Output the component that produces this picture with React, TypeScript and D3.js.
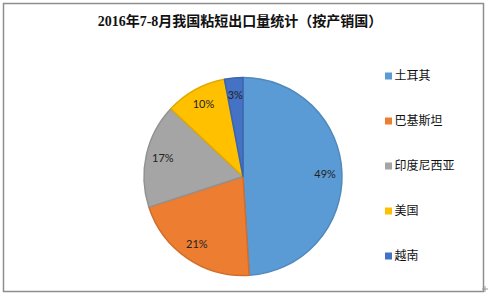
import React from "react";
import * as d3 from "d3";

const categories = ["土耳其", "巴基斯坦", "印度尼西亚", "美国", "越南"];
const values = [49, 21, 17, 10, 3];
const labels = ["49%", "21%", "17%", "10%", "3%"];
const colors = ["#5B9BD5", "#ED7D31", "#A5A5A5", "#FFC000", "#4472C4"];
const title = "2016年7-8月我国粘短出口量统计（按产销国）";

export default function App() {
  const W = 488, H = 296;
  const cx = 243, cy = 176.5, r = 99;
  const pie = d3.pie<number>().sort(null).value((d) => d);
  const arcs = pie(values);
  const arc = d3.arc<d3.PieArcDatum<number>>().innerRadius(0).outerRadius(r);
  const labelArc = d3.arc<d3.PieArcDatum<number>>().innerRadius(r * 0.83).outerRadius(r * 0.83);
  const legendY = d3.scalePoint<string>().domain(categories).range([76, 256]);

  return (
    <svg width={W} height={H} style={{ position: "absolute", left: 0, top: 0, background: "#fff" }}>
      <rect x={0} y={0} width={W} height={H} fill="#fff" />
      <rect x={3.5} y={3.5} width={480} height={288} fill="#fff" stroke="#8e8e8e" strokeWidth={1.5} />
      <line x1={482} y1={289} x2={488} y2={289} stroke="#999" strokeWidth={1} />
      <line x1={485} y1={286} x2={485} y2={292} stroke="#999" strokeWidth={1} />
      <text x={240} y={26} textAnchor="middle" fontSize={14} fontWeight="bold"
        fontFamily="'Liberation Serif', 'Noto Sans CJK SC', serif" fill="#111">{title}</text>
      <g transform={`translate(${cx},${cy})`}>
        {arcs.map((a, i) => (
          <path key={i} d={arc(a) || ""} fill={colors[i]}
            stroke={d3.color(colors[i])!.darker(0.35).toString()} strokeWidth={1.5} strokeLinejoin="round" />
        ))}
        {arcs.map((a, i) => {
          const [x, y] = labelArc.centroid(a);
          return (
            <text key={i} x={x} y={y} dy="0.35em" textAnchor="middle" fontSize={11}
              fontFamily="Lato, 'Open Sans', sans-serif" fill="#222">{labels[i]}</text>
          );
        })}
      </g>
      {categories.map((c, i) => (
        <g key={c} transform={`translate(385,${legendY(c)})`}>
          <rect x={0} y={-3.5} width={7} height={7} fill={colors[i]} />
          <text x={9.5} y={0} dy="0.36em" fontSize={12} fontFamily="'Noto Sans CJK SC', sans-serif" fill="#111">{c}</text>
        </g>
      ))}
    </svg>
  );
}
